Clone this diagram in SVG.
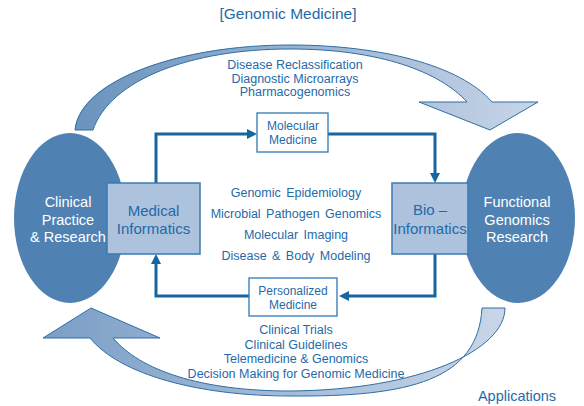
<svg xmlns="http://www.w3.org/2000/svg" width="584" height="406" viewBox="0 0 584 406">
  <style>
    text { font-family: "Liberation Sans", Arial, sans-serif; text-anchor: middle; }
    .blue { fill: #1f6aa8; }
    .white { fill: #ffffff; }
    .big { font-size: 14.5px; }
    .boxtext { font-size: 15px; }
    .mid { font-size: 12.5px; }
    .small { font-size: 12px; }
    .ellipse { fill: #4f82b3; }
    .infobox { fill: #adc2dc; stroke: #3a7bb5; stroke-width: 1.5; }
    .topicbox { fill: #ffffff; stroke: #2f79b5; stroke-width: 1.3; }
    .flow { fill: none; stroke: #1666a1; stroke-width: 3; marker-end: url(#ah); }
    .band { stroke: #2d6ea5; stroke-width: 1; }
  </style>
  <defs>
    <linearGradient id="gradTop" gradientUnits="userSpaceOnUse" x1="75" y1="0" x2="538" y2="0">
      <stop offset="0" stop-color="#6a93bd"/>
      <stop offset="1" stop-color="#c8d5e7"/>
    </linearGradient>
    <linearGradient id="gradBottom" gradientUnits="userSpaceOnUse" x1="43" y1="0" x2="505" y2="0">
      <stop offset="0" stop-color="#7b9ec6"/>
      <stop offset="1" stop-color="#c9d6e8"/>
    </linearGradient>
    <marker id="ah" viewBox="0 0 10 10" refX="4" refY="5" markerWidth="10" markerHeight="10" markerUnits="userSpaceOnUse" orient="auto">
      <path d="M0,0 L10,5 L0,10 Z" fill="#1666a1"/>
    </marker>
  </defs>

  <!-- title -->
  <text id="title" x="288" y="19" class="blue" style="font-size:15.5px">[Genomic Medicine]</text>

  <!-- large curved arrows around the cycle -->
  <g id="cycle-arrows">
    <path id="arrow-top" class="band" fill="url(#gradTop)"
      d="M75,130 C80,80 180,45 290,45 C380,45 460,65 492,102 L538,102 L490,130 L419,102 L467,102 C440,72 380,49 290,49 C190,49 110,80 93,130 Z"/>
    <path id="arrow-bottom" class="band" fill="url(#gradBottom)"
      d="M505,308 C505,350 420,390 290,391 C200,391 140,370 113,338 L160,338 L91,308 L43,338 L90,338 C120,375 200,396 290,396 C410,397 478,380 482,308 Z"/>
  </g>

  <!-- connectors of the inner loop -->
  <g id="connectors">
    <path class="flow" d="M156,183 V134 H251"/>
    <path class="flow" d="M328,134 H435 V177"/>
    <path class="flow" d="M435,254 V296 H345"/>
    <path class="flow" d="M249,296 H156 V260"/>
  </g>

  <!-- outer ellipses -->
  <g id="clinical">
    <ellipse class="ellipse" cx="70" cy="218" rx="56" ry="85"/>
    <text class="white big" x="68" y="207">Clinical</text>
    <text class="white big" x="68" y="224.5">Practice</text>
    <text class="white big" x="68" y="242">&amp; Research</text>
  </g>
  <g id="functional">
    <ellipse class="ellipse" cx="518" cy="218" rx="57" ry="85"/>
    <text class="white big" x="517" y="207">Functional</text>
    <text class="white big" x="517" y="224.5">Genomics</text>
    <text class="white big" x="517" y="242">Research</text>
  </g>

  <!-- informatics boxes -->
  <g id="medical-informatics">
    <rect class="infobox" x="107" y="183" width="93" height="71"/>
    <text class="blue boxtext" x="153.5" y="216">Medical</text>
    <text class="blue boxtext" x="153.5" y="233.5">Informatics</text>
  </g>
  <g id="bio-informatics">
    <rect class="infobox" x="392" y="183" width="76" height="71"/>
    <text class="blue boxtext" x="430" y="215">Bio –</text>
    <text class="blue boxtext" x="430" y="233.5">Informatics</text>
  </g>

  <!-- topic boxes on the loop -->
  <g id="molecular-medicine">
    <rect class="topicbox" x="257" y="113" width="71" height="39"/>
    <text class="blue small" x="293" y="130">Molecular</text>
    <text class="blue small" x="293" y="144">Medicine</text>
  </g>
  <g id="personalized-medicine">
    <rect class="topicbox" x="249" y="278" width="88" height="38"/>
    <text class="blue small" x="293" y="295">Personalized</text>
    <text class="blue small" x="293" y="309">Medicine</text>
  </g>

  <!-- topic lists -->
  <g id="top-topics">
    <text class="blue mid" x="295" y="69">Disease Reclassification</text>
    <text class="blue mid" x="295" y="82.5">Diagnostic Microarrays</text>
    <text class="blue mid" x="295" y="96">Pharmacogenomics</text>
  </g>
  <g id="center-topics">
    <text class="blue mid" x="296" y="197" style="word-spacing:2px">Genomic Epidemiology</text>
    <text class="blue mid" x="296" y="218" style="word-spacing:2px">Microbial Pathogen Genomics</text>
    <text class="blue mid" x="296" y="239" style="word-spacing:2px">Molecular Imaging</text>
    <text class="blue mid" x="296" y="260" style="word-spacing:2px">Disease &amp; Body Modeling</text>
  </g>
  <g id="bottom-topics">
    <text class="blue mid" x="296" y="334">Clinical Trials</text>
    <text class="blue mid" x="296" y="348.5">Clinical Guidelines</text>
    <text class="blue mid" x="296" y="363">Telemedicine &amp; Genomics</text>
    <text class="blue mid" x="296" y="377.5">Decision Making for Genomic Medicine</text>
  </g>

  <text id="applications" x="517" y="401" class="blue" style="font-size:14.5px">Applications</text>
</svg>
